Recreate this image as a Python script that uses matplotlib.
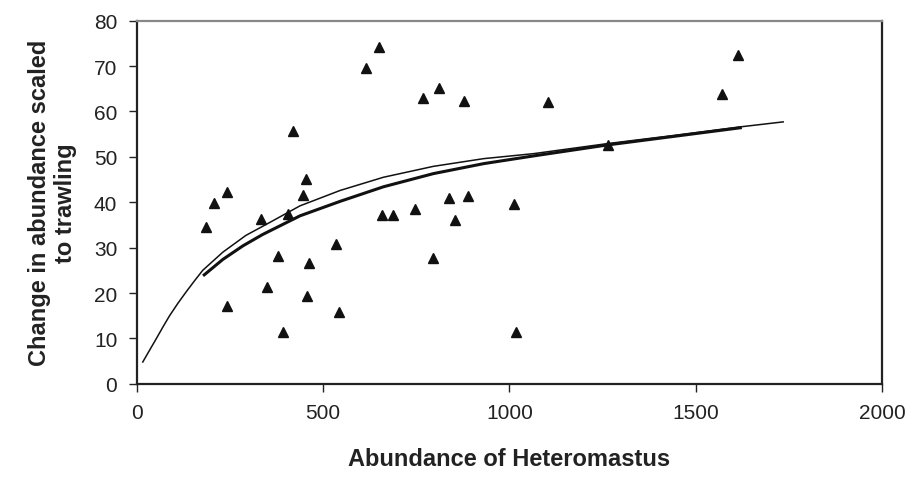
import numpy as np
import matplotlib.pyplot as plt

plt.rcParams['font.family'] = ['Liberation Sans', 'DejaVu Sans']

# observed points (abundance, change scaled to trawling)
abund = [186, 206, 242, 242, 334, 349, 380, 392, 407, 420, 447, 454, 456, 461,
         535, 544, 614, 651, 658, 689, 747, 769, 795, 811, 838, 855, 879, 890,
         1012, 1018, 1105, 1265, 1572, 1613]
change = [34.5, 39.9, 42.2, 17.1, 36.3, 21.4, 28.1, 11.4, 37.5, 55.6, 41.5, 45.2, 19.4, 26.7,
          30.7, 15.8, 69.5, 74.3, 37.2, 37.2, 38.5, 63.0, 27.7, 65.2, 41.0, 36.0, 62.2, 41.4,
          39.5, 11.4, 62.0, 52.5, 63.9, 72.5]

# fitted curves
fit1_x = [16, 35, 52, 70, 88, 110, 132, 155, 177, 231, 293, 356, 438, 546, 662, 796, 931, 1065, 1262, 1441, 1620, 1735]
fit1_y = [4.8, 7.5, 9.9, 12.5, 15.0, 17.7, 20.2, 22.7, 25.0, 29.0, 32.7, 35.5, 39.2, 42.6, 45.5, 47.9, 49.6, 50.7, 52.9, 54.7, 56.6, 57.7]
fit2_x = [181, 231, 285, 338, 438, 546, 662, 796, 931, 1065, 1262, 1441, 1620]
fit2_y = [24.0, 27.4, 30.4, 32.9, 37.0, 40.2, 43.4, 46.3, 48.5, 50.2, 52.6, 54.5, 56.4]

fig = plt.figure(figsize=(9.12, 4.81), dpi=100)
ax = fig.add_axes([0.150, 0.200, 0.817, 0.755])

ax.plot(fit1_x, fit1_y, color='#111111', lw=1.1, zorder=2)
ax.plot(fit2_x, fit2_y, color='#111111', lw=2.2, zorder=2)
ax.plot(abund, change, linestyle='none', marker='^', color='#111111', markersize=7, zorder=3)

ax.set_xlim(0, 2000)
ax.set_ylim(0, 80)
ax.set_xticks([0, 500, 1000, 1500, 2000])
ax.set_yticks(range(0, 81, 10))
ax.tick_params(direction='out', length=6, width=1, labelsize=15, colors='#222222', pad=8)

for s in ['left', 'bottom', 'right']:
    ax.spines[s].set_color('#222222')
    ax.spines[s].set_linewidth(1.6)
ax.spines['top'].set_color('#888888')
ax.spines['top'].set_linewidth(1.6)

ax.set_xlabel('Abundance of Heteromastus', fontsize=17, fontweight='bold', color='#222222', labelpad=18)
ax.set_ylabel('Change in abundance scaled\nto trawling', fontsize=17, fontweight='bold', color='#222222',
              labelpad=12, multialignment='center')

fig.savefig('out.png', dpi=100)
